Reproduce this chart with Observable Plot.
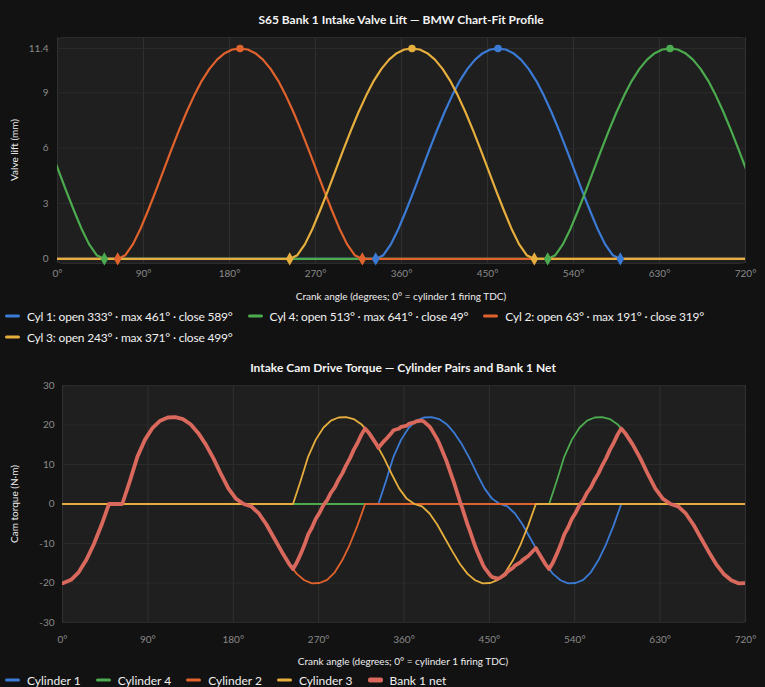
<!DOCTYPE html>
<html>
<head>
<meta charset="utf-8">
<script src="https://cdn.jsdelivr.net/npm/d3@7"></script>
<script src="https://cdn.jsdelivr.net/npm/@observablehq/plot@0.6"></script>
<style>
  body { margin:0; background:#121212; width:765px; height:687px; position:relative; overflow:hidden; font-family: Lato, "Open Sans", sans-serif; }
  .abs { position:absolute; white-space:nowrap; transform:translate(-50%,-50%); }
  .title { font-weight:700; font-size:12px; color:#f2f2f2; }
  .axt { font-size:10px; color:#eeeeee; }
  .rot { transform:translate(-50%,-50%) rotate(-90deg); }
  .legend { position:absolute; left:5px; display:flex; align-items:center; gap:15px; font-size:12px; color:#f0f0f0; transform:translateY(-50%); white-space:nowrap; }
  .tight span { letter-spacing:-0.2px; }
  .item { display:flex; align-items:center; gap:7px; }
  .sw { width:15px; height:3px; border-radius:2px; }
  .chart { position:absolute; left:0; }
</style>
</head>
<body>
<div class="abs title" style="left:401px; top:19px;">S65 Bank 1 Intake Valve Lift — BMW Chart-Fit Profile</div>
<div class="abs axt rot" style="left:14px; top:150px;">Valve lift (mm)</div>
<div class="abs axt" style="left:401px; top:296px;">Crank angle (degrees; 0° = cylinder 1 firing TDC)</div>
<div id="top" class="chart" style="top:0px;"></div>
<div id="leg1" class="legend tight" style="top:316px;"></div>
<div id="leg1b" class="legend tight" style="top:337px;"></div>

<div class="abs title" style="left:403px; top:367px;">Intake Cam Drive Torque — Cylinder Pairs and Bank 1 Net</div>
<div class="abs axt rot" style="left:14px; top:504px;">Cam torque (N·m)</div>
<div class="abs axt" style="left:403px; top:661px;">Crank angle (degrees; 0° = cylinder 1 firing TDC)</div>
<div id="bot" class="chart" style="top:345px;"></div>
<div id="leg2" class="legend" style="top:680px;"></div>

<script>
// ---- data ----
const cylNames    = ["Cyl 1", "Cyl 4", "Cyl 2", "Cyl 3"];
const cylLongName = ["Cylinder 1", "Cylinder 4", "Cylinder 2", "Cylinder 3"];
const openDeg  = [333, 513, 63, 243];
const maxDeg   = [461, 641, 191, 371];
const closeDeg = [589, 49, 319, 499];
const cylColors = ["#3b7bd6", "#4bab4e", "#e0622c", "#e6ae3d"];
const netName = "Bank 1 net";
const netColor = "#d9685d";

// profile sampled every 8° after valve opening (0..256°)
const profileStepDeg = 8;
const liftProfile = [0, 0.2, 0.8, 1.65, 2.65, 3.7, 4.8, 5.9, 6.95, 7.95, 8.85, 9.65, 10.3, 10.8, 11.15, 11.35, 11.4,
                     11.35, 11.15, 10.8, 10.3, 9.65, 8.85, 7.95, 6.95, 5.9, 4.8, 3.7, 2.65, 1.65, 0.8, 0.2, 0];
const torqueProfile = [0, 5.8, 12.0, 16.3, 19.3, 21.1, 21.9, 22.0, 21.5, 20.2, 18.0, 15.1, 11.6, 7.6, 3.9, 1.3, 0,
                       -0.6, -2.4, -5.2, -8.6, -12.0, -15.2, -17.7, -19.3, -20.1, -20.0, -19.2, -17.3, -14.2, -10.2, -5.4, 0];
const peakLift = 11.4;

const angleTicks  = [0, 90, 180, 270, 360, 450, 540, 630, 720];
const liftTicks   = [0, 3, 6, 9, 11.4];
const torqueTicks = [-30, -20, -10, 0, 10, 20, 30];

// ---- build series (shift the read profile to each cylinder's opening angle) ----
function series(open, profile) {
  const pts = [];
  const dur = profileStepDeg * (profile.length - 1);
  const wraps = open + dur > 720;
  profile.forEach((v, k) => {
    const x = open + k * profileStepDeg;
    if (x <= 720 + profileStepDeg) pts.push({x, y: v});
    if (wraps && x - 720 >= -profileStepDeg) pts.push({x: x - 720, y: v});
  });
  if (!wraps) { pts.push({x: 0, y: 0}); pts.push({x: 720, y: 0}); }
  pts.sort((a, b) => a.x - b.x);
  return pts;
}
function valueAt(pts, x) {
  if (x < pts[0].x || x > pts[pts.length - 1].x) return 0;
  for (let i = 1; i < pts.length; i++) {
    if (x <= pts[i].x) {
      const a = pts[i - 1], b = pts[i];
      if (b.x === a.x) return b.y;
      return a.y + (b.y - a.y) * (x - a.x) / (b.x - a.x);
    }
  }
  return 0;
}
const liftSeries = openDeg.map(o => series(o, liftProfile));
const torqueSeries = openDeg.map(o => series(o, torqueProfile));
const netXs = Array.from(new Set(torqueSeries.flatMap(s => s.map(p => p.x)))).sort((a, b) => a - b);
const netSeries = netXs.map(x => ({x, y: d3.sum(torqueSeries, s => valueAt(s, x))}));

const markers = [];
openDeg.forEach((o, i) => {
  markers.push({x: o, y: 0, c: cylColors[i]});
  markers.push({x: closeDeg[i], y: 0, c: cylColors[i]});
});
const peaks = maxDeg.map((m, i) => ({x: m, y: peakLift, c: cylColors[i]}));

const font = "Lato, 'Open Sans', sans-serif";
const deg = d => d + "°";

const topPlot = Plot.plot({
  width: 765, height: 308,
  marginTop: 37, marginLeft: 57, marginRight: 20, marginBottom: 45,
  style: {background: "transparent", color: "#8a8a8a", fontSize: "10px", fontFamily: font},
  x: {domain: [0, 720]},
  y: {domain: [-0.25, 12]},
  marks: [
    Plot.frame({fill: "#1f1f1f", stroke: "#2c2c2c", rx: 4}),
    Plot.gridX(angleTicks, {stroke: "#303030", strokeOpacity: 1}),
    Plot.gridY(liftTicks, {stroke: "#2b2b2b", strokeOpacity: 1}),
    Plot.axisX(angleTicks, {tickSize: 0, tickPadding: 6, tickFormat: deg, label: null}),
    Plot.axisY(liftTicks, {tickSize: 0, tickPadding: 9, tickFormat: d => String(d), label: null}),
    ...liftSeries.map((s, i) => Plot.line(s, {x: "x", y: "y", stroke: cylColors[i], strokeWidth: 2.2, clip: true})),
    Plot.dot(markers, {x: "x", y: "y", fill: "c", symbol: "diamond", r: 4}),
    Plot.dot(peaks, {x: "x", y: "y", fill: "c", r: 3.8})
  ]
});
document.getElementById("top").appendChild(topPlot);

const botPlot = Plot.plot({
  width: 765, height: 307,
  marginTop: 40, marginLeft: 62, marginRight: 20, marginBottom: 30,
  style: {background: "transparent", color: "#8a8a8a", fontSize: "10px", fontFamily: font},
  x: {domain: [0, 720]},
  y: {domain: [-30, 30]},
  marks: [
    Plot.frame({fill: "#1f1f1f", stroke: "#2c2c2c", rx: 4}),
    Plot.gridX(angleTicks, {stroke: "#303030", strokeOpacity: 1}),
    Plot.gridY(torqueTicks, {stroke: "#2b2b2b", strokeOpacity: 1}),
    Plot.axisX(angleTicks, {tickSize: 0, tickPadding: 13, tickFormat: deg, label: null}),
    Plot.axisY(torqueTicks, {tickSize: 0, tickPadding: 8, tickFormat: d => String(d), label: null}),
    ...torqueSeries.map((s, i) => Plot.line(s, {x: "x", y: "y", stroke: cylColors[i], strokeWidth: 1.8, clip: true})),
    Plot.line(netSeries, {x: "x", y: "y", stroke: netColor, strokeWidth: 3.8, clip: true, strokeLinejoin: "round"})
  ]
});
document.getElementById("bot").appendChild(botPlot);

// ---- legends ----
function item(color, text, thick) {
  const d = document.createElement("div");
  d.className = "item";
  d.innerHTML = `<div class="sw" style="background:${color};height:${thick || 3}px"></div><span>${text}</span>`;
  return d;
}
const topLabels = cylNames.map((n, i) => `${n}: open ${openDeg[i]}° · max ${maxDeg[i]}° · close ${closeDeg[i]}°`);
const leg1 = document.getElementById("leg1"), leg1b = document.getElementById("leg1b");
topLabels.forEach((t, i) => (i < 3 ? leg1 : leg1b).appendChild(item(cylColors[i], t)));
const leg2 = document.getElementById("leg2");
cylLongName.forEach((n, i) => leg2.appendChild(item(cylColors[i], n)));
leg2.appendChild(item(netColor, netName, 5));
</script>
</body>
</html>
